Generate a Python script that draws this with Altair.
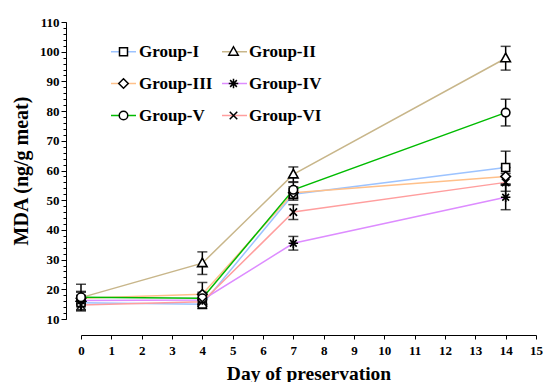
import altair as alt
import pandas as pd

days = [0, 4, 7, 14]
groups = ["Group-I", "Group-II", "Group-III", "Group-IV", "Group-V", "Group-VI"]

mean_I = [15.5, 15.0, 52.0, 61.0]
mean_II = [17.2, 28.8, 58.7, 97.8]
mean_III = [17.0, 18.3, 52.5, 58.0]
mean_IV = [16.2, 16.4, 35.5, 51.0]
mean_V = [17.3, 17.0, 53.5, 79.5]
mean_VI = [14.7, 15.8, 46.0, 56.0]

err_I = [2.5, 1.5, 2.0, 5.5]
err_II = [4.5, 3.8, 2.5, 4.0]
err_III = [2.0, 4.0, 2.0, 3.0]
err_IV = [1.5, 1.5, 2.3, 4.2]
err_V = [2.0, 2.0, 2.5, 4.5]
err_VI = [1.5, 1.5, 2.5, 3.0]

means = [mean_I, mean_II, mean_III, mean_IV, mean_V, mean_VI]
errs = [err_I, err_II, err_III, err_IV, err_V, err_VI]

rows = []
for g, m, e in zip(groups, means, errs):
    for d, v, s in zip(days, m, e):
        rows.append({"day": d, "mda": v, "lo": v - s, "hi": v + s, "group": g, "grp": g})
df = pd.DataFrame(rows)

line_colors = ["#9cc3ff", "#c8b68a", "#ffc08a", "#dd8cff", "#00bb00", "#ff9e9e"]
shape_paths = [
    "M-0.32,-0.32H0.32V0.32H-0.32Z",
    "M0,-0.4L0.38,0.28H-0.38Z",
    "M0,-0.38L0.38,0L0,0.38L-0.38,0Z",
    "M-0.38,0H0.38M0,-0.38V0.38M-0.27,-0.27L0.27,0.27M-0.27,0.27L0.27,-0.27",
    "M0.34,0A0.34,0.34 0 1,1 -0.34,0A0.34,0.34 0 1,1 0.34,0Z",
    "M-0.3,-0.3L0.3,0.3M-0.3,0.3L0.3,-0.3",
]

FONT = "Liberation Serif"
y_scale = alt.Scale(domain=[10, 110], nice=False, zero=False)

x_enc = alt.X(
    "day:Q",
    scale=alt.Scale(domain=[0, 15], nice=False, zero=False),
    axis=alt.Axis(
        values=list(range(16)),
        tickCount=16,
        title="Day of preservation",
        offset=16,
        grid=False,
        tickSize=4,
        labelPadding=5,
        labelOverlap=False,
        labelFlush=False,
        titlePadding=7,
        labelFont=FONT, labelFontSize=13, labelFontWeight="bold", labelColor="black",
        titleFont=FONT, titleFontSize=19.5, titleFontWeight="bold", titleColor="black",
        domainColor="black", tickColor="black",
    ),
)
y_main = alt.Y(
    "mda:Q",
    scale=y_scale,
    axis=alt.Axis(
        orient="left",
        values=list(range(10, 111, 10)),
        title="MDA (ng/g meat)",
        offset=15,
        grid=False,
        tickSize=5,
        labelPadding=2,
        labelOverlap=False,
        titlePadding=8,
        labelFont=FONT, labelFontSize=13, labelFontWeight="bold", labelColor="black",
        titleFont=FONT, titleFontSize=20, titleFontWeight="bold", titleColor="black",
        domainColor="black", tickColor="black",
    ),
)
y_minor = alt.Y(
    "lo:Q",
    scale=y_scale,
    axis=alt.Axis(
        orient="left",
        values=list(range(10, 111, 2)),
        title=None,
        offset=15,
        grid=False,
        domain=False,
        labels=False,
        tickSize=3,
        tickColor="black",
    ),
)

LEG_X = 29
LEG_Y = 16

base = alt.Chart(df)

lines = base.mark_line(strokeWidth=1.5).encode(
    x=x_enc,
    y=y_main,
    color=alt.Color(
        "group:N",
        scale=alt.Scale(range=line_colors),
        legend=alt.Legend(
            title=None,
            orient="none",
            legendX=LEG_X,
            legendY=LEG_Y,
            columns=2,
            direction="horizontal",
            symbolType="stroke",
            symbolSize=625,
            symbolStrokeWidth=1.5,
            labelExpr="''",
            labelFontSize=17,
            labelOffset=3,
            columnPadding=79,
            rowPadding=10,
        ),
    ),
)

bars = base.mark_rule(color="black", strokeWidth=1.5).encode(
    x=x_enc, y=y_minor, y2="hi:Q"
)
caps_hi = base.mark_tick(color="black", orient="horizontal", size=10, thickness=1.5).encode(
    x=x_enc, y=alt.Y("hi:Q", scale=y_scale, axis=None)
)
caps_lo = base.mark_tick(color="black", orient="horizontal", size=10, thickness=1.5).encode(
    x=x_enc, y=alt.Y("lo:Q", scale=y_scale, axis=None)
)

points = base.mark_point(strokeWidth=1.6, size=625, opacity=1).encode(
    x=x_enc,
    y=alt.Y("mda:Q", scale=y_scale, axis=None),
    stroke=alt.value("black"),
    fill=alt.value("white"),
    shape=alt.Shape(
        "grp:N",
        scale=alt.Scale(range=shape_paths),
        legend=alt.Legend(
            title=None,
            orient="none",
            legendX=LEG_X,
            legendY=LEG_Y,
            columns=2,
            direction="horizontal",
            symbolSize=625,
            symbolStrokeWidth=1.5,
            labelFont=FONT, labelFontSize=17, labelFontWeight="bold",
            labelColor="black",
            labelOffset=2,
            columnPadding=7,
            rowPadding=10,
        ),
    ),
)

chart = (
    alt.layer(lines, bars, caps_hi, caps_lo, points)
    .resolve_axis(y="independent")
    .properties(
        width=455,
        height=297,
        autosize=alt.AutoSizeParams(type="none"),
        padding={"left": 81, "top": 22, "right": 8, "bottom": 63},
        background="white",
    )
    .configure_view(stroke=None)
)

chart.save("out.html", embed_options={"renderer": "svg", "actions": False})
